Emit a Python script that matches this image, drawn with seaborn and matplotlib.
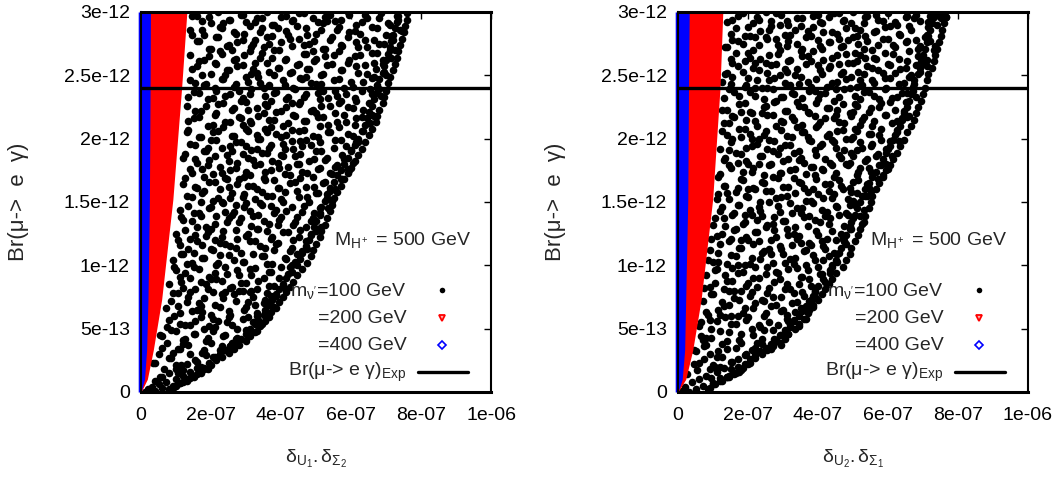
import numpy as np
import pandas as pd
import matplotlib
matplotlib.use("Agg")
import matplotlib.pyplot as plt
import seaborn as sns

# m_nu' = 100 GeV points, x in units of 1e-8, y in units of 1e-14
black_left = [
    (1,0),(2,2),(4,1),(3,4),(6,3),(8,2),(5,6),(9,5),(7,8),(11,7),(4,9),(10,10),(13,9),(6,12),(12,13),(15,12),(8,15),(14,16),(17,15),(10,18),(16,19),(19,18),(12,17),
    (4,23),(6,35),(8,27),(10,21),(12,38),(14,30),(16,24),(18,33),(20,39),(21,28),(23,36),(24,33),(26,39),(9,31),(13,22),(17,20),(5,30),(11,34),
    (6,44),(8,57),(10,48),(12,41),(14,53),(15,46),(17,59),(19,43),(21,51),(22,56),(24,45),(26,53),(27,42),(29,58),(30,49),(32,55),(33,60),(18,50),(11,54),(25,59),
    (7,66),(9,78),(11,62),(13,71),(14,79),(16,65),(18,74),(20,61),(21,69),(23,77),(25,64),(27,72),(28,80),(30,67),(32,75),(33,62),(35,70),(36,78),(37,76),(24,79),(17,68),(31,79),
    (8,85),(10,96),(12,82),(14,90),(15,99),(17,87),(19,81),(21,94),(23,88),(24,99),(26,83),(28,92),(30,86),(31,97),(33,81),(35,90),(37,95),(38,84),(40,99),(42,93),(43,100),(20,89),(29,80),(11,91),
    (9,104),(11,116),(13,101),(15,110),(16,119),(18,106),(20,113),(22,102),(24,117),(25,108),(27,114),(29,103),(31,119),(32,109),(34,115),(36,101),(38,112),(39,118),(41,106),(43,114),(44,103),(46,111),(47,119),(21,120),(35,107),(12,109),
    (10,125),(12,136),(14,121),(16,130),(17,139),(19,126),(21,133),(23,122),(25,137),(27,128),(28,134),(30,123),(32,139),(33,129),(35,135),(37,121),(39,132),(40,138),(42,126),(44,134),(45,122),(47,130),(49,137),(50,127),(51,140),(26,140),(36,127),(20,129),
    (11,144),(13,155),(15,141),(17,150),(18,159),(20,146),(22,153),(24,142),(26,157),(27,148),(29,154),(31,143),(33,160),(34,149),(36,155),(38,141),(40,152),(41,158),(43,146),(45,154),(46,142),(48,150),(50,157),(51,145),(53,153),(54,159),(23,150),(37,147),(30,149),
    (12,164),(14,176),(16,161),(18,170),(19,179),(21,166),(23,173),(25,162),(27,177),(28,168),(30,174),(32,163),(34,180),(35,169),(37,175),(39,161),(41,172),(42,178),(44,166),(46,174),(47,162),(49,170),(51,177),(52,165),(54,173),(56,179),(57,168),(59,176),(24,169),(38,167),(45,180),(31,171),
    (12,185),(14,196),(16,181),(18,190),(20,199),(21,186),(23,193),(25,182),(27,197),(29,188),(30,194),(32,183),(34,200),(36,189),(37,195),(39,181),(41,192),(43,198),(44,186),(46,194),(48,182),(50,190),(51,197),(53,185),(55,193),(57,199),(58,184),(60,191),(62,197),(26,190),(40,187),(47,199),(33,192),(19,193),
    (13,205),(15,216),(17,201),(19,210),(21,219),(22,206),(24,213),(26,202),(28,217),(30,208),(31,214),(33,203),(35,220),(37,209),(38,215),(40,201),(42,212),(44,218),(45,206),(47,214),(49,202),(51,210),(52,217),(54,205),(56,213),(58,219),(59,204),(61,211),(63,217),(65,212),(66,219),(29,211),(43,207),(50,220),(36,205),
    (13,226),(15,237),(17,222),(19,231),(21,240),(22,227),(24,234),(26,223),(28,238),(30,229),(31,235),(33,224),(35,240),(37,230),(38,236),(40,222),(42,233),(44,239),(45,227),(47,235),(49,223),(51,231),(52,238),(54,226),(56,234),(58,240),(59,225),(61,232),(63,238),(65,228),(66,235),(68,239),(29,232),(43,228),(57,230),(36,226),
    (14,246),(16,257),(18,242),(20,251),(21,260),(23,247),(25,254),(27,243),(29,258),(30,249),(32,255),(34,244),(36,260),(38,250),(39,256),(41,242),(43,253),(45,259),(46,247),(48,255),(50,243),(52,251),(53,258),(55,246),(57,254),(59,260),(60,245),(62,252),(64,258),(66,248),(67,255),(69,259),(70,250),(33,252),(47,249),(24,250),
    (14,266),(16,277),(18,262),(20,271),(22,280),(23,267),(25,274),(27,263),(29,278),(31,269),(32,275),(34,264),(36,280),(38,270),(40,276),(41,262),(43,273),(45,279),(47,267),(48,275),(50,263),(52,271),(54,278),(55,266),(57,274),(59,280),(61,265),(62,272),(64,278),(66,268),(68,275),(69,262),(71,270),(72,278),(35,272),(49,269),(26,270),
    (14,286),(16,297),(18,282),(20,291),(22,300),(23,287),(25,294),(27,283),(29,298),(31,289),(33,295),(34,284),(36,300),(38,290),(40,296),(42,282),(43,293),(45,299),(47,287),(49,295),(50,283),(52,291),(54,298),(56,286),(57,294),(59,300),(61,285),(63,292),(64,298),(66,288),(68,295),(70,282),(71,290),(73,297),(74,286),(76,299),(39,287),(53,293),(30,292),
    # in-between points
    (3.5,23),(5.5,12),(6.5,18),(8.5,27),(10.5,15),(11.5,21),(13.5,10),(15.5,25),(16.5,19),(18.5,29),(20.5,28),
    (5.5,45),(7.5,39),(8.5,49),(10.5,34),(12.5,42),(13.5,37),(15.5,46),(17.5,31),(18.5,40),(20.5,48),(22.5,33),(23.5,44),(25.5,36),(27.5,43),(32.5,47),
    (7.5,51),(9.5,60),(10.5,68),(12.5,53),(14.5,64),(15.5,56),(17.5,63),(19.5,52),(20.5,58),(22.5,67),(24.5,55),(25.5,61),(27.5,50),(29.5,65),(30.5,59),(32.5,69),(34.5,54),(35.5,62),(38.5,66),
    (8.5,72),(10.5,78),(11.5,87),(13.5,75),(15.5,81),(16.5,70),(18.5,85),(20.5,79),(21.5,89),(23.5,74),(25.5,82),(26.5,77),(28.5,86),(30.5,71),(31.5,80),(33.5,88),(35.5,73),(36.5,84),(38.5,76),(40.5,83),
    (9.5,99),(11.5,109),(12.5,94),(14.5,102),(16.5,97),(17.5,106),(19.5,91),(21.5,100),(22.5,108),(24.5,93),(26.5,104),(27.5,96),(29.5,103),(31.5,92),(32.5,98),(34.5,107),(36.5,95),(37.5,101),(39.5,90),(41.5,105),(42.5,99),(44.5,109),
    (10.5,120),(12.5,128),(13.5,113),(15.5,124),(17.5,116),(18.5,123),(20.5,112),(22.5,118),(23.5,127),(25.5,115),(27.5,121),(28.5,110),(30.5,125),(32.5,119),(33.5,129),(35.5,114),(37.5,122),(38.5,117),(40.5,126),(42.5,111),(43.5,120),(45.5,128),(47.5,113),(48.5,124),
    (11.5,138),(13.5,147),(14.5,135),(16.5,141),(18.5,130),(19.5,145),(21.5,139),(23.5,149),(24.5,134),(26.5,142),(28.5,137),(29.5,146),(31.5,131),(33.5,140),(34.5,148),(36.5,133),(38.5,144),(39.5,136),(41.5,143),(43.5,132),(44.5,138),(46.5,147),(48.5,135),(49.5,141),(51.5,130),(53.5,145),
    (12.5,169),(14.5,154),(15.5,162),(17.5,157),(19.5,166),(20.5,151),(22.5,160),(24.5,168),(25.5,153),(27.5,164),(29.5,156),(30.5,163),(32.5,152),(34.5,158),(35.5,167),(37.5,155),(39.5,161),(40.5,150),(42.5,165),(44.5,159),(45.5,169),(47.5,154),(49.5,162),(50.5,157),(52.5,166),(54.5,151),(55.5,160),(57.5,168),
    (12.5,188),(14.5,173),(15.5,184),(17.5,176),(19.5,183),(20.5,172),(22.5,178),(24.5,187),(25.5,175),(27.5,181),(29.5,170),(30.5,185),(32.5,179),(34.5,189),(35.5,174),(37.5,182),(39.5,177),(40.5,186),(42.5,171),(44.5,180),(45.5,188),(47.5,173),(49.5,184),(50.5,176),(52.5,183),(54.5,172),(55.5,178),(57.5,187),(59.5,175),(60.5,181),
    (13.5,207),(15.5,195),(16.5,201),(18.5,190),(20.5,205),(21.5,199),(23.5,209),(25.5,194),(26.5,202),(28.5,197),(30.5,206),(31.5,191),(33.5,200),(35.5,208),(36.5,193),(38.5,204),(40.5,196),(41.5,203),(43.5,192),(45.5,198),(46.5,207),(48.5,195),(50.5,201),(51.5,190),(53.5,205),(55.5,199),(56.5,209),(58.5,194),(60.5,202),(61.5,197),(63.5,206),
    (13.5,214),(15.5,222),(16.5,217),(18.5,226),(20.5,211),(21.5,220),(23.5,228),(25.5,213),(26.5,224),(28.5,216),(30.5,223),(31.5,212),(33.5,218),(35.5,227),(36.5,215),(38.5,221),(40.5,210),(41.5,225),(43.5,219),(45.5,229),(46.5,214),(48.5,222),(50.5,217),(51.5,226),(53.5,211),(55.5,220),(56.5,228),(58.5,213),(60.5,224),(61.5,216),(63.5,223),(65.5,212),(66.5,218),
    (13.5,233),(15.5,244),(16.5,236),(18.5,243),(20.5,232),(21.5,238),(23.5,247),(25.5,235),(26.5,241),(28.5,230),(30.5,245),(31.5,239),(33.5,249),(35.5,234),(36.5,242),(38.5,237),(40.5,246),(41.5,231),(43.5,240),(45.5,248),(46.5,233),(48.5,244),(50.5,236),(51.5,243),(53.5,232),(55.5,238),(56.5,247),(58.5,235),(60.5,241),(61.5,230),(63.5,245),(65.5,239),(66.5,249),(68.5,234),
    (14.5,255),(16.5,261),(17.5,250),(19.5,265),(21.5,259),(22.5,269),(24.5,254),(26.5,262),(27.5,257),(29.5,266),(31.5,251),(32.5,260),(34.5,268),(36.5,253),(37.5,264),(39.5,256),(41.5,263),(42.5,252),(44.5,258),(46.5,267),(47.5,255),(49.5,261),(51.5,250),(52.5,265),(54.5,259),(56.5,269),(57.5,254),(59.5,262),(61.5,257),(62.5,266),(64.5,251),(66.5,260),(67.5,268),(69.5,253),(71.5,264),
    (14.5,282),(16.5,277),(17.5,286),(19.5,271),(21.5,280),(22.5,288),(24.5,273),(26.5,284),(27.5,276),(29.5,283),(31.5,272),(32.5,278),(34.5,287),(36.5,275),(37.5,281),(39.5,270),(41.5,285),(42.5,279),(44.5,289),(46.5,274),(47.5,282),(49.5,277),(51.5,286),(52.5,271),(54.5,280),(56.5,288),(57.5,273),(59.5,284),(61.5,276),(62.5,283),(64.5,272),(66.5,278),(67.5,287),(69.5,275),(71.5,281),(72.5,270),(74.5,285),
    (14.5,297),(17.5,293),(19.5,296),(23.5,291),(25.5,294),(28.5,298),(32.5,292),(34.5,295),(37.5,290),(41.5,297),(43.5,294),(46.5,299),(50.5,292),(52.5,296),(55.5,293),(59.5,298),(61.5,290),(64.5,295),(68.5,299),(70.5,291),(73.5,294),
    # points crowding the outer (right) edge
    (10,5),(12,8),(14,11),(16,14),(18,18),(20,21),(21.5,25),(23,28),(25,31),(26.5,34),(28,37),(30,40),(31,44),(33,48),(34,52),(35.5,56),(36.5,59),(37,63),(38,67),(39.5,71),(40.5,75),(41.5,79),(42.5,83),(43.5,87),(44.5,92),(46,97),(47.5,102),(48.5,107),(49,112),(50,117),(51,122),(51.5,127),(52.5,132),(53,137),(54,143),(54.5,148),(55,153),(56,158),(57,163),(58,168),(59,173),(60,177),(61,182),(62,187),(63,192),(64,197),(65,203),(66,208),(67,213),(67.5,218),(68,223),(69,228),(69.5,233),(70,238),(70.5,244),(71,249),(72,254),(72.5,259),(73,264),(73.5,269),(74,274),(74.5,279),(75,284),(75.5,289),(76,294),
    (9,3),(11,7),(13,10),(15,13),(16.5,16),(18,19),(19.5,23),(21,27),(22.5,30),(24,33),(25.5,36),(27,39),(28.5,42),(30,46),(31,50),(32.5,54),(33.5,57),(35,61),(35.5,65),(36.5,69),(37.5,73),(38.5,77),(39.5,81),(40.5,85),(41.5,90),(43,95),(44.5,100),(45.5,105),(46,110),(47,115),(48,120),(48.5,125),(49.5,130),(50,135),(51,141),(51.5,146),(52.5,151),(53,156),(54,161),(55,166),(56,171),(57,175),(58,180),(59,185),(60,190),(61,195),(62,200),(63,206),(64,211),(64.5,216),(65,221),(66,226),(66.5,231),(67,236),(67.5,242),(68,247),(69,252),(69.5,257),(70,262),(70.5,267),(71,272),(71.5,277),(72,282),(72.5,287),(73,292),(73.5,297),
]

black_right = [
    (1,1),(3,0),(2,4),(5,2),(7,5),(4,8),(9,3),(6,10),(10,7),(12,11),(8,13),(14,12),(11,16),(16,14),(13,19),(18,17),(15,18),(9,18),(17,20),
    (5,32),(6,23),(8,37),(11,28),(12,20),(14,34),(17,26),(18,39),(19,29),(22,35),(20,22),(24,38),(25,34),(27,39),(10,21),(15,24),(9,30),(21,33),
    (6,52),(8,43),(9,57),(12,48),(14,40),(15,54),(18,46),(20,59),(21,50),(24,42),(26,55),(27,49),(29,45),(31,58),(32,51),(7,41),(17,60),(23,53),(11,56),(28,41),(33,57),
    (7,72),(8,63),(10,77),(13,68),(15,60),(16,74),(19,66),(21,79),(22,70),(25,62),(27,75),(28,69),(30,65),(33,78),(34,71),(36,76),(35,66),(39,79),(12,61),(18,80),(24,73),(31,61),(38,73),
    (8,92),(9,83),(11,97),(14,88),(16,80),(17,94),(20,86),(22,99),(23,90),(26,82),(28,95),(29,89),(31,85),(34,98),(35,91),(37,96),(38,84),(41,93),(42,87),(44,100),(13,81),(19,100),(25,93),(32,81),(40,99),
    (9,112),(10,103),(12,117),(15,108),(17,100),(18,114),(21,106),(23,119),(24,110),(27,102),(29,115),(30,109),(32,105),(35,118),(36,111),(38,116),(39,104),(42,113),(43,107),(45,120),(46,110),(48,117),(14,101),(20,120),(26,113),(33,101),(41,119),
    (10,132),(11,123),(13,137),(16,128),(18,120),(19,134),(22,126),(24,139),(25,130),(28,122),(30,135),(31,129),(33,125),(36,138),(37,131),(39,136),(40,124),(43,133),(44,127),(46,140),(47,121),(49,131),(50,137),(52,139),(15,121),(21,140),(27,133),(34,121),(42,139),
    (11,152),(12,143),(14,157),(17,148),(19,140),(20,154),(23,146),(25,159),(26,150),(29,142),(31,155),(32,149),(34,145),(37,158),(38,151),(40,156),(41,144),(44,153),(45,147),(47,160),(48,141),(50,151),(51,157),(53,144),(54,155),(55,159),(16,141),(22,160),(28,153),(35,141),(43,159),(49,148),
    (12,172),(13,163),(15,177),(18,168),(20,160),(21,174),(24,166),(26,179),(27,170),(30,162),(32,175),(33,169),(35,165),(38,178),(39,171),(41,176),(42,164),(45,173),(46,167),(48,180),(49,161),(51,171),(52,177),(54,164),(55,174),(57,168),(58,179),(60,176),(17,161),(23,180),(29,173),(36,161),(44,179),(50,166),
    (12,192),(13,183),(15,197),(18,188),(20,180),(21,194),(24,186),(26,199),(27,190),(30,182),(32,195),(33,189),(35,185),(38,198),(39,191),(41,196),(42,184),(45,193),(46,187),(48,200),(49,181),(51,191),(52,197),(54,184),(55,194),(57,188),(58,199),(60,192),(61,186),(63,198),(17,181),(23,200),(29,193),(36,181),(44,199),(50,186),
    (13,212),(14,203),(16,217),(19,208),(21,200),(22,214),(25,206),(27,219),(28,210),(31,202),(33,215),(34,209),(36,205),(39,218),(40,211),(42,216),(43,204),(46,213),(47,207),(49,220),(50,201),(52,211),(53,217),(55,204),(56,214),(58,208),(59,219),(61,212),(62,203),(64,216),(66,218),(18,201),(24,220),(30,213),(37,201),(45,219),(51,206),
    (13,232),(14,223),(16,237),(19,228),(21,220),(22,234),(25,226),(27,239),(28,230),(31,222),(33,235),(34,229),(36,225),(39,238),(40,231),(42,236),(43,224),(46,233),(47,227),(49,240),(50,221),(52,231),(53,237),(55,224),(56,234),(58,228),(59,239),(61,232),(62,223),(64,236),(65,229),(67,238),(68,233),(18,221),(24,240),(30,233),(37,221),(45,239),(51,226),
    (14,252),(15,243),(17,257),(20,248),(22,240),(23,254),(26,246),(28,259),(29,250),(32,242),(34,255),(35,249),(37,245),(40,258),(41,251),(43,256),(44,244),(47,253),(48,247),(50,260),(51,241),(53,251),(54,257),(56,244),(57,254),(59,248),(60,259),(62,252),(63,243),(65,256),(66,249),(68,258),(69,253),(71,257),(19,241),(25,260),(31,253),(38,241),(46,259),(52,246),
    (14,272),(15,263),(17,277),(20,268),(22,260),(23,274),(26,266),(28,279),(29,270),(32,262),(34,275),(35,269),(37,265),(40,278),(41,271),(43,276),(44,264),(47,273),(48,267),(50,280),(51,261),(53,271),(54,277),(56,264),(57,274),(59,268),(60,279),(62,272),(63,263),(65,276),(66,269),(68,278),(69,273),(71,262),(72,277),(73,270),(19,261),(25,280),(31,273),(38,261),(46,279),(52,266),
    (14,292),(15,283),(17,297),(20,288),(22,280),(23,294),(26,286),(28,299),(29,290),(32,282),(34,295),(35,289),(37,285),(40,298),(41,291),(43,296),(44,284),(47,293),(48,287),(50,300),(51,281),(53,291),(54,297),(56,284),(57,294),(59,288),(60,299),(62,292),(63,283),(65,296),(66,289),(68,298),(69,293),(71,282),(72,297),(74,290),(75,295),(76,299),(19,281),(25,300),(31,293),(38,281),(46,299),(52,286),
    # in-between points
    (2.5,14),(4.5,22),(5.5,17),(7.5,26),(9.5,11),(10.5,20),(12.5,28),(14.5,13),(15.5,24),(17.5,16),
    (4.5,33),(6.5,44),(7.5,36),(9.5,43),(11.5,32),(12.5,38),(14.5,47),(16.5,35),(17.5,41),(19.5,30),(21.5,45),(22.5,39),(24.5,49),(26.5,34),(27.5,42),(29.5,37),(31.5,46),
    (6.5,55),(8.5,61),(9.5,50),(11.5,65),(13.5,59),(14.5,69),(16.5,54),(18.5,62),(19.5,57),(21.5,66),(23.5,51),(24.5,60),(26.5,68),(28.5,53),(29.5,64),(31.5,56),(33.5,63),(34.5,52),(36.5,58),(38.5,67),
    (7.5,82),(9.5,77),(10.5,86),(12.5,71),(14.5,80),(15.5,88),(17.5,73),(19.5,84),(20.5,76),(22.5,83),(24.5,72),(25.5,78),(27.5,87),(29.5,75),(30.5,81),(32.5,70),(34.5,85),(35.5,79),(37.5,89),(39.5,74),
    (8.5,104),(10.5,96),(11.5,103),(13.5,92),(15.5,98),(16.5,107),(18.5,95),(20.5,101),(21.5,90),(23.5,105),(25.5,99),(26.5,109),(28.5,94),(30.5,102),(31.5,97),(33.5,106),(35.5,91),(36.5,100),(38.5,108),(40.5,93),(41.5,104),(43.5,96),(45.5,103),
    (9.5,121),(11.5,110),(12.5,125),(14.5,119),(16.5,129),(17.5,114),(19.5,122),(21.5,117),(22.5,126),(24.5,111),(26.5,120),(27.5,128),(29.5,113),(31.5,124),(32.5,116),(34.5,123),(36.5,112),(37.5,118),(39.5,127),(41.5,115),(42.5,121),(44.5,110),(46.5,125),(47.5,119),(49.5,129),
    (10.5,137),(12.5,146),(13.5,131),(15.5,140),(17.5,148),(18.5,133),(20.5,144),(22.5,136),(23.5,143),(25.5,132),(27.5,138),(28.5,147),(30.5,135),(32.5,141),(33.5,130),(35.5,145),(37.5,139),(38.5,149),(40.5,134),(42.5,142),(43.5,137),(45.5,146),(47.5,131),(48.5,140),(50.5,148),(52.5,133),
    (11.5,156),(13.5,163),(14.5,152),(16.5,158),(18.5,167),(19.5,155),(21.5,161),(23.5,150),(24.5,165),(26.5,159),(28.5,169),(29.5,154),(31.5,162),(33.5,157),(34.5,166),(36.5,151),(38.5,160),(39.5,168),(41.5,153),(43.5,164),(44.5,156),(46.5,163),(48.5,152),(49.5,158),(51.5,167),(53.5,155),(54.5,161),
    (11.5,170),(13.5,185),(14.5,179),(16.5,189),(18.5,174),(19.5,182),(21.5,177),(23.5,186),(24.5,171),(26.5,180),(28.5,188),(29.5,173),(31.5,184),(33.5,176),(34.5,183),(36.5,172),(38.5,178),(39.5,187),(41.5,175),(43.5,181),(44.5,170),(46.5,185),(48.5,179),(49.5,189),(51.5,174),(53.5,182),(54.5,177),(56.5,186),(58.5,171),(59.5,180),
    (12.5,206),(14.5,191),(15.5,200),(17.5,208),(19.5,193),(20.5,204),(22.5,196),(24.5,203),(25.5,192),(27.5,198),(29.5,207),(30.5,195),(32.5,201),(34.5,190),(35.5,205),(37.5,199),(39.5,209),(40.5,194),(42.5,202),(44.5,197),(45.5,206),(47.5,191),(49.5,200),(50.5,208),(52.5,193),(54.5,204),(55.5,196),(57.5,203),(59.5,192),(60.5,198),(62.5,207),
    (12.5,223),(14.5,212),(15.5,218),(17.5,227),(19.5,215),(20.5,221),(22.5,210),(24.5,225),(25.5,219),(27.5,229),(29.5,214),(30.5,222),(32.5,217),(34.5,226),(35.5,211),(37.5,220),(39.5,228),(40.5,213),(42.5,224),(44.5,216),(45.5,223),(47.5,212),(49.5,218),(50.5,227),(52.5,215),(54.5,221),(55.5,210),(57.5,225),(59.5,219),(60.5,229),(62.5,214),(64.5,222),(65.5,217),
    (12.5,245),(14.5,239),(15.5,249),(17.5,234),(19.5,242),(20.5,237),(22.5,246),(24.5,231),(25.5,240),(27.5,248),(29.5,233),(30.5,244),(32.5,236),(34.5,243),(35.5,232),(37.5,238),(39.5,247),(40.5,235),(42.5,241),(44.5,230),(45.5,245),(47.5,239),(49.5,249),(50.5,234),(52.5,242),(54.5,237),(55.5,246),(57.5,231),(59.5,240),(60.5,248),(62.5,233),(64.5,244),(65.5,236),(67.5,243),
    (13.5,251),(15.5,260),(16.5,268),(18.5,253),(20.5,264),(21.5,256),(23.5,263),(25.5,252),(26.5,258),(28.5,267),(30.5,255),(31.5,261),(33.5,250),(35.5,265),(36.5,259),(38.5,269),(40.5,254),(41.5,262),(43.5,257),(45.5,266),(46.5,251),(48.5,260),(50.5,268),(51.5,253),(53.5,264),(55.5,256),(56.5,263),(58.5,252),(60.5,258),(61.5,267),(63.5,255),(65.5,261),(66.5,250),(68.5,265),(70.5,259),
    (13.5,272),(15.5,278),(16.5,287),(18.5,275),(20.5,281),(21.5,270),(23.5,285),(25.5,279),(26.5,289),(28.5,274),(30.5,282),(31.5,277),(33.5,286),(35.5,271),(36.5,280),(38.5,288),(40.5,273),(41.5,284),(43.5,276),(45.5,283),(46.5,272),(48.5,278),(50.5,287),(51.5,275),(53.5,281),(55.5,270),(56.5,285),(58.5,279),(60.5,289),(61.5,274),(63.5,282),(65.5,277),(66.5,286),(68.5,271),(70.5,280),(71.5,288),(73.5,273),
    (15.5,294),(18.5,299),(21.5,291),(22.5,296),(26.5,293),(29.5,298),(31.5,290),(35.5,295),(38.5,297),(40.5,292),(44.5,299),(47.5,294),(49.5,291),(53.5,296),(56.5,298),(58.5,293),(62.5,290),(65.5,297),(67.5,295),(71.5,292),(74.5,299),(76.5,296),
    # points crowding the outer (right) edge
    (10,6),(12.5,9),(14.5,12),(16.5,15),(18.5,19),(20.5,23),(22,27),(24,30),(25.5,33),(27,36),(29,39),(30.5,42),(31.5,46),(33.5,50),(34.5,54),(36,58),(37,62),(37.5,65),(38.5,69),(40,73),(41,77),(42,81),(43,85),(44,89),(45,94),(47,99),(48,104),(49,109),(49.5,114),(50.5,119),(51.5,124),(52,129),(53,134),(53.5,139),(54.5,145),(55,150),(55.5,155),(56.5,160),(57.5,165),(58.5,170),(59.5,175),(60.5,179),(61.5,184),(62.5,189),(63.5,194),(64.5,199),(65.5,205),(66.5,210),(67.5,215),(68,220),(68.5,225),(69.5,230),(70,235),(70.5,240),(71,246),(71.5,251),(72.5,256),(73,261),(73.5,266),(74,271),(74.5,276),(75,281),(75.5,286),(76,291),(76.5,296),
    (8.5,2),(10.5,6),(12,9),(14,12),(16,15),(17.5,18),(19,22),(20.5,26),(22,29),(23.5,32),(25,35),(26.5,38),(28,41),(29.5,45),(30.5,49),(32,53),(33,56),(34.5,60),(35.5,64),(36.5,68),(37.5,72),(38.5,76),(39,80),(40,84),(41.5,89),(43.5,94),(44,99),(45,104),(45.5,109),(46.5,114),(47.5,119),(48,124),(49,129),(49.5,134),(50.5,140),(51,145),(52,150),(52.5,155),(53.5,160),(54.5,165),(55.5,170),(56.5,174),(57.5,179),(58.5,184),(59.5,189),(60.5,194),(61.5,199),(62.5,205),(63.5,210),(64,215),(64.5,220),(65.5,225),(66,230),(66.5,235),(67,241),(67.5,246),(68.5,251),(69,256),(69.5,261),(70,266),(70.5,271),(71,276),(71.5,281),(72,286),(72.5,291),(73,296),
]

# outer edge of the dense 200 GeV (red) and 400 GeV (blue) clouds, same units
env_y = [0, 10, 33, 73, 152, 240, 300]
red_left = [0, 1.8, 3.5, 5.9, 9.1, 11.6, 13.1]
red_right = [0, 2.2, 4.2, 6.6, 9.9, 12.0, 12.8]
blue_left = [0, 1.0, 1.6, 2.0, 2.4, 2.6, 2.7]
blue_right = [0, 1.2, 1.9, 2.2, 2.8, 3.0, 3.2]
blue_min = -0.8

br_exp = 2.4e-12

xticks = [0, 2e-7, 4e-7, 6e-7, 8e-7, 1e-6]
xticklabels = ["0", "2e-07", "4e-07", "6e-07", "8e-07", "1e-06"]
yticks = [0, 5e-13, 1e-12, 1.5e-12, 2e-12, 2.5e-12, 3e-12]
yticklabels = ["0", "5e-13", "1e-12", "1.5e-12", "2e-12", "2.5e-12", "3e-12"]

legend_labels = [r"$m_{\nu'}$=100 GeV", "=200 GeV", "=400 GeV", r"Br(μ-> e γ)$_{Exp}$"]

sns.set_style("white")
plt.rcParams["font.family"] = ["Liberation Sans", "DejaVu Sans"]
plt.rcParams["mathtext.fontset"] = "custom"
plt.rcParams["mathtext.rm"] = "Liberation Sans"
plt.rcParams["mathtext.it"] = "Liberation Sans:italic"
plt.rcParams["mathtext.default"] = "regular"

W, H = 1063, 487
fig = plt.figure(figsize=(W / 100, H / 100), dpi=100)


def panel(left_px, pts, red_x, blue_x, xlabel):
    ax = fig.add_axes([left_px / W, 95 / H, 350 / W, 380 / H])
    df = pd.DataFrame(pts, columns=["x", "y"])
    df["x"] = df["x"] * 1e-8
    df["y"] = df["y"] * 1e-14
    sns.scatterplot(data=df, x="x", y="y", ax=ax, color="black", s=30,
                    linewidth=0, zorder=1)
    ey = np.array(env_y) * 1e-14
    ax.fill_betweenx(ey, 0, np.array(red_x) * 1e-8, color="#ff0000", lw=0, zorder=1.1)
    ax.fill_betweenx(ey, blue_min * 1e-8, np.array(blue_x) * 1e-8, color="#0000ff",
                     lw=0, zorder=1.2, clip_on=False)
    ax.axhline(br_exp, color="black", lw=2.4, zorder=2)

    ax.set_xlim(0, 1e-6)
    ax.set_ylim(0, 3e-12)
    ax.set_xticks(xticks, xticklabels)
    ax.set_yticks(yticks, yticklabels)
    ax.set_xlabel("")
    ax.set_ylabel("")
    ax.tick_params(direction="in", length=5, width=1, top=True, right=True,
                   labelsize=14, colors="black")
    ax.tick_params(axis="x", pad=11)
    ax.tick_params(axis="y", pad=8)
    for name, sp in ax.spines.items():
        sp.set_visible(True)
        sp.set_color("black")
        sp.set_linewidth(2.2 if name in ("top", "bottom") else 1.5)

    ax.text(0.55, 0.387, r"$M_{H^+}$ = 500 GeV", transform=ax.transAxes,
            fontsize=14, va="baseline")
    rows_y = [0.253, 0.182, 0.111, 0.042]
    for lab, ty in zip(legend_labels, rows_y):
        ax.text(0.758, ty, lab, transform=ax.transAxes, fontsize=14,
                ha="right", va="baseline")
    kw = dict(transform=ax.transAxes, clip_on=False, ls="none")
    ax.plot([0.861], [0.268], marker="o", ms=4, color="black", mew=0, **kw)
    ax.plot([0.861], [0.196], marker="v", ms=5, mfc="#ffb0b0", mec="red", mew=1.3, **kw)
    ax.plot([0.861], [0.124], marker="D", ms=4, mfc="white", mec="blue", mew=1.2, **kw)
    ax.plot([0.79, 0.933], [0.052, 0.052], color="black", lw=2.4,
            transform=ax.transAxes, clip_on=False)

    cx = (left_px + 175) / W
    fig.text(cx, 24 / H, xlabel, fontsize=14, ha="center", va="baseline")
    return ax


panel(141, black_left, red_left, blue_left, r"$\delta_{U_1}.\delta_{\Sigma_2}$")
panel(678, black_right, red_right, blue_right, r"$\delta_{U_2}.\delta_{\Sigma_1}$")

for xpx in (19, 556):
    fig.text(xpx / W, (H - 202) / H, "Br(μ->  e  γ)", fontsize=16, rotation=90,
             ha="center", va="center")

fig.savefig("out.png", dpi=100)
